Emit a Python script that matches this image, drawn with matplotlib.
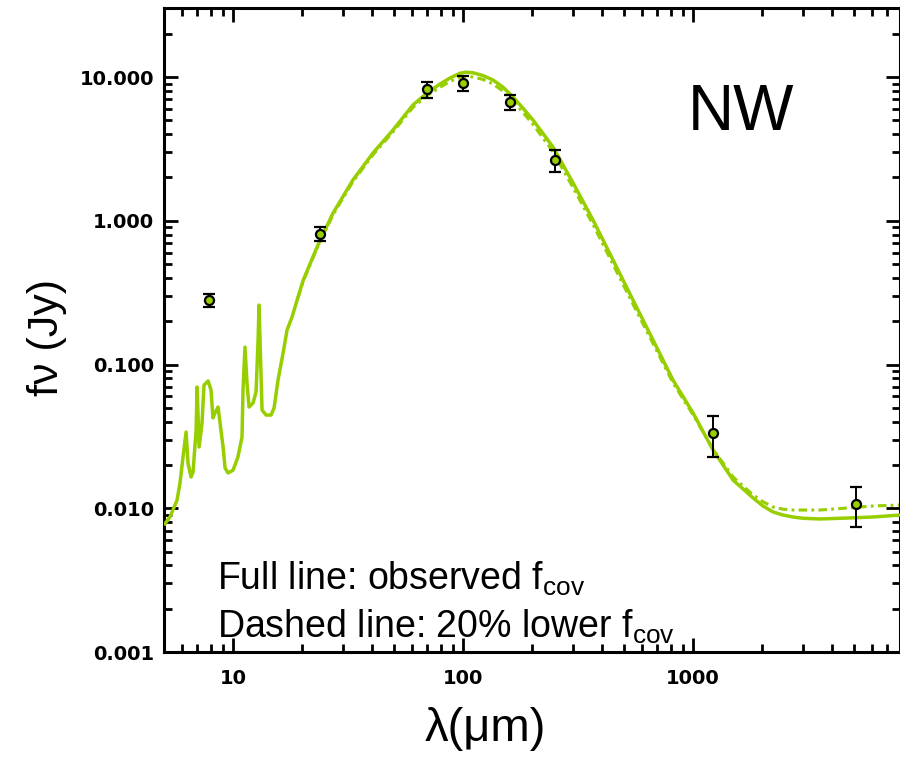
import matplotlib
matplotlib.use("Agg")
import matplotlib.pyplot as plt
from matplotlib.ticker import FixedLocator, LogLocator, NullFormatter, FixedFormatter

plt.rcParams['mathtext.fontset'] = 'custom'
plt.rcParams['mathtext.rm'] = 'Liberation Sans'
plt.rcParams['mathtext.it'] = 'Liberation Sans:italic'

# Model SED, observed covering factor (wavelength in micron, flux in Jy)
model_wl = [5.06, 5.32, 5.71, 5.88, 6.06, 6.25, 6.37, 6.57, 6.70, 6.91, 6.98,
            7.12, 7.33, 7.48, 7.79, 8.02, 8.18, 8.35, 8.61, 8.78, 9.05, 9.23,
            9.51, 10.0, 10.5, 10.94, 11.05, 11.27, 11.50, 11.74, 12.22, 12.59,
            12.85, 12.97, 13.37, 13.92, 14.63, 15.08, 15.69, 16.50, 17.18,
            18.05, 19.17, 20.2, 23.2, 27.2, 33.2, 40.6, 49.6, 60.6, 69.7, 79.4,
            87.8, 97.0, 103.0, 110.5, 122.0, 135.0, 149.0, 165.0, 182.0, 201.5,
            246.0, 301.0, 367.5, 449.0, 548.0, 670.0, 818.0, 1000.0, 1222.0,
            1493.0, 1824.0, 2014.0, 2228.0, 2461.0, 2721.0, 3000.0, 3566.0,
            4673.0, 6061.0, 7943.0]
model_flux = [0.0078, 0.0087, 0.0114, 0.0150, 0.0227, 0.0339, 0.0206, 0.0165,
              0.0179, 0.0350, 0.0697, 0.0267, 0.0392, 0.0720, 0.0768, 0.0665,
              0.0425, 0.0460, 0.0506, 0.0392, 0.0267, 0.0191, 0.0176, 0.0184,
              0.0227, 0.0313, 0.0665, 0.132, 0.0743, 0.0506, 0.0540, 0.0644,
              0.148, 0.259, 0.0482, 0.0445, 0.0445, 0.0498, 0.0780, 0.120,
              0.174, 0.214, 0.295, 0.387, 0.657, 1.13, 1.92, 2.96, 4.28, 6.39,
              7.74, 8.94, 9.84, 10.62, 10.8, 10.7, 10.24, 9.53, 8.51, 7.26,
              6.08, 5.02, 3.26, 1.83, 1.01, 0.533, 0.281, 0.148, 0.078, 0.046,
              0.0254, 0.0157, 0.0118, 0.01037, 0.00942, 0.00897, 0.00869,
              0.00852, 0.00842, 0.00855, 0.00869, 0.00897]

# Model SED with a 20% lower covering factor
low_wl = [19.17, 20.2, 23.2, 27.2, 33.2, 40.6, 49.6, 60.6, 69.7, 79.4, 87.8,
          97.0, 103.0, 110.5, 122.0, 135.0, 149.0, 165.0, 182.0, 201.5, 246.0,
          301.0, 367.5, 449.0, 548.0, 670.0, 818.0, 1000.0, 1222.0, 1493.0,
          1824.0, 2014.0, 2228.0, 2461.0, 2721.0, 3566.0, 4673.0, 6061.0,
          7943.0]
low_flux = [0.292, 0.380, 0.645, 1.10, 1.87, 2.88, 4.15, 6.15, 7.40, 8.50,
            9.30, 9.98, 10.1, 10.0, 9.62, 8.95, 7.98, 6.80, 5.68, 4.68, 3.02,
            1.70, 0.94, 0.497, 0.263, 0.140, 0.0745, 0.0447, 0.0258, 0.0165,
            0.01237, 0.0111, 0.0102, 0.00985, 0.00972, 0.00972, 0.01004,
            0.01037, 0.01053]

# Photometry
obs_wl = [7.9, 24.0, 70.0, 100.0, 160.0, 250.0, 1220.0, 5100.0]
obs_flux = [0.28, 0.81, 8.2, 9.1, 6.7, 2.65, 0.0332, 0.0107]
obs_err = [0.03, 0.09, 1.0, 1.1, 0.85, 0.47, 0.0103, 0.0033]

ytick_vals = [0.001, 0.01, 0.1, 1.0, 10.0]
ytick_text = ['0.001', '0.010', '0.100', '1.000', '10.000']
xtick_vals = [10, 100, 1000]
xtick_text = ['10', '100', '1000']

green = '#97CE00'

fig = plt.figure(figsize=(9.0, 7.59), dpi=100)
ax = fig.add_axes([163.8 / 900, 107 / 759, 735.7 / 900, 644 / 759])

ax.plot(model_wl, model_flux, color=green, lw=2.5, solid_joinstyle='round',
        zorder=3)
ax.plot(low_wl, low_flux, color=green, lw=2.2,
        linestyle=(0, (2.8, 1.4, 0.9, 1.4)), zorder=2)
ax.errorbar(obs_wl, obs_flux, yerr=obs_err, fmt='o', ms=6.5, mfc=green,
            mec='black', mew=1.6, ecolor='black', elinewidth=1.4,
            capsize=4, capthick=1.4, zorder=4)

ax.set_xscale('log')
ax.set_yscale('log')
ax.set_xlim(5, 7900)
ax.set_ylim(0.001, 30.2)

ax.yaxis.set_major_locator(FixedLocator(ytick_vals))
ax.yaxis.set_major_formatter(FixedFormatter(ytick_text))
ax.xaxis.set_major_locator(FixedLocator(xtick_vals))
ax.xaxis.set_major_formatter(FixedFormatter(xtick_text))
for axis in (ax.xaxis, ax.yaxis):
    axis.set_minor_locator(LogLocator(base=10, subs=range(2, 10), numticks=20))
    axis.set_minor_formatter(NullFormatter())

ax.tick_params(which='both', direction='in', top=True, right=True, width=2.0)
ax.tick_params(which='major', length=10)
ax.tick_params(which='minor', length=5.5)
ax.tick_params(axis='y', which='major', pad=7)
ax.tick_params(axis='x', which='major', pad=12)
for lab in ax.get_xticklabels() + ax.get_yticklabels():
    lab.set_fontfamily('DejaVu Sans')
    lab.set_fontweight('bold')
    lab.set_fontsize(14)
for sp in ax.spines.values():
    sp.set_linewidth(2.2)

ax.text(0.7125, 0.8106, 'NW', transform=ax.transAxes, fontsize=46,
        family='Liberation Sans', va='baseline', ha='left')
ax.text(0.0723, 0.0963, r'Full line: observed f$_{\mathrm{cov}}$',
        transform=ax.transAxes, fontsize=27, family='Liberation Sans',
        va='baseline', ha='left')
ax.text(0.0723, 0.0217, r'Dashed line: 20% lower f$_{\mathrm{cov}}$',
        transform=ax.transAxes, fontsize=27, family='Liberation Sans',
        va='baseline', ha='left')

fig.text(485 / 900, 1 - 729 / 759, 'λ(μm)', fontsize=34,
         family='Liberation Sans', ha='center', va='center')
fig.text(47 / 900, 1 - 338 / 759, 'fν (Jy)', fontsize=31,
         family='Liberation Sans', ha='center', va='center', rotation=90)

fig.savefig('out.png', dpi=100)
